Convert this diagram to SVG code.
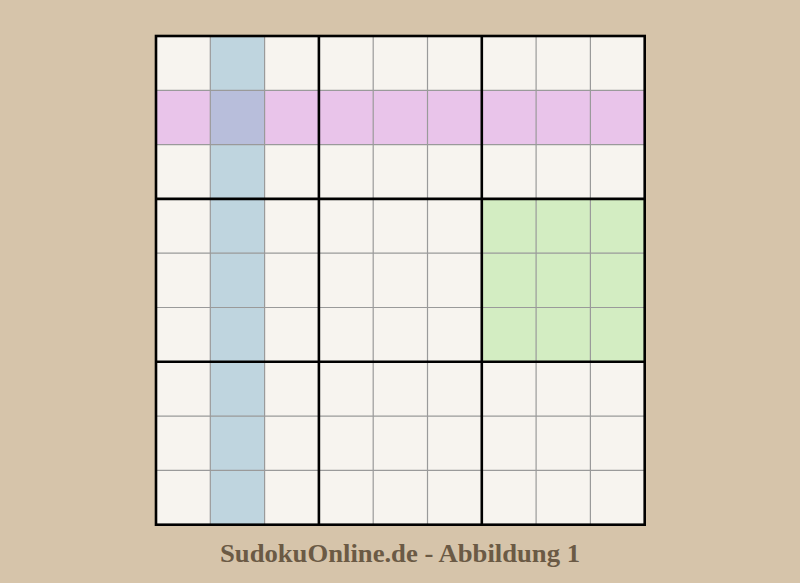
<svg xmlns="http://www.w3.org/2000/svg" width="800" height="583" viewBox="0 0 800 583">
<style>
.thin{stroke:#9a9a9a;stroke-width:1.2;fill:none}
.thick{stroke:#000;stroke-width:2.6;fill:none}
.cap{font-family:"Liberation Serif","DejaVu Serif",serif;font-weight:bold;font-size:26px;fill:#6b5a45}
</style>
<rect width="800" height="583" fill="#d6c4aa"/>
<g id="board">
<rect x="156" y="36" width="488.7" height="488.7" fill="#f7f4ef"/>
<rect id="col" x="210.3" y="36" width="54.3" height="488.7" fill="#bfd5df"/>
<rect id="row" x="156" y="90.3" width="488.7" height="54.3" fill="#e9c4ea"/>
<rect id="cross" x="210.3" y="90.3" width="54.3" height="54.3" fill="#b8bedb"/>
<rect id="box" x="481.8" y="198.9" width="162.9" height="162.9" fill="#d3edc2"/>
</g>
<g id="lines">
<path class="thin" d="M210.3 36V524.7M264.6 36V524.7M373.2 36V524.7M427.5 36V524.7M536.1 36V524.7M590.4 36V524.7M156 90.3H644.7M156 144.6H644.7M156 253.2H644.7M156 307.5H644.7M156 416.1H644.7M156 470.4H644.7"/>
<path class="thick" d="M318.9 36V524.7M481.8 36V524.7M156 198.9H644.7M156 361.8H644.7"/>
<rect class="thick" x="156" y="36" width="488.7" height="488.7"/>
</g>
<text class="cap" x="400" y="561.5" text-anchor="middle" textLength="360" lengthAdjust="spacingAndGlyphs">SudokuOnline.de - Abbildung 1</text>
</svg>
